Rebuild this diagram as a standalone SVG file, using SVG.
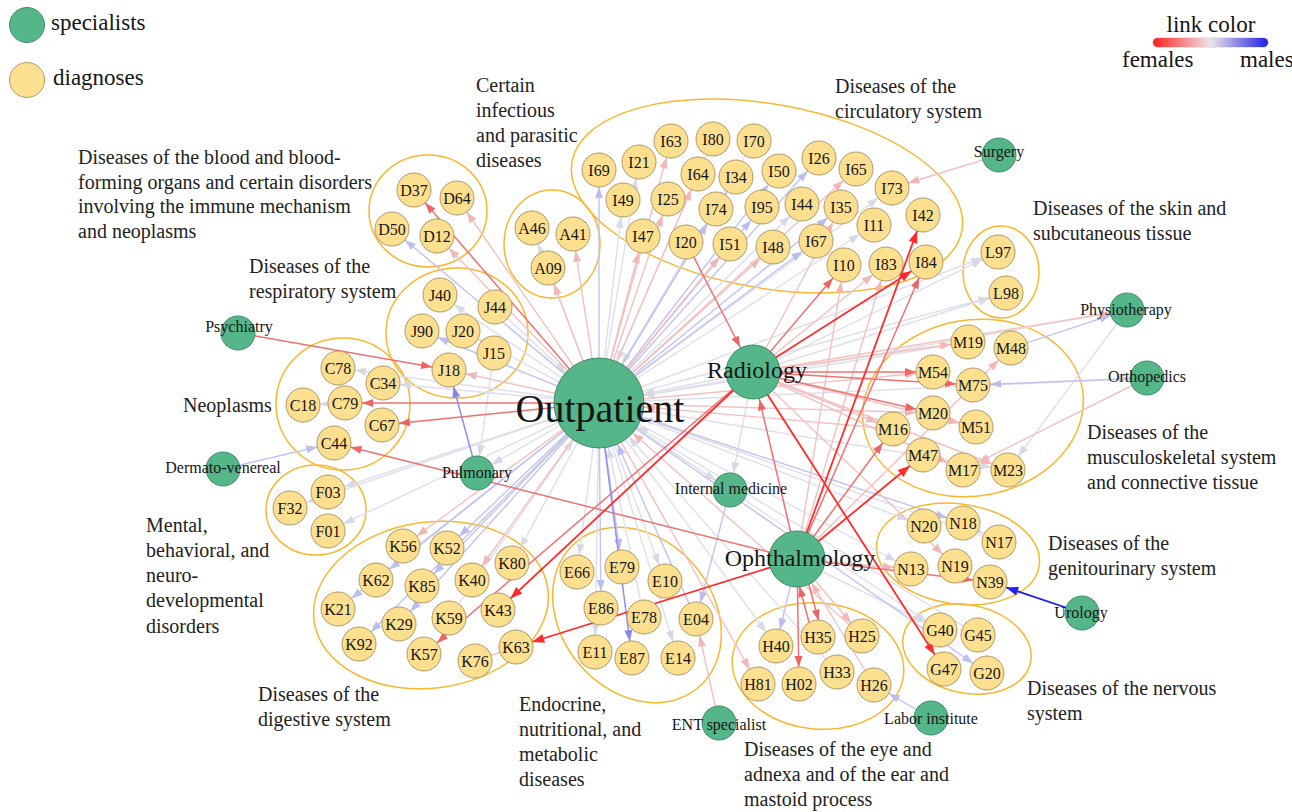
<svg xmlns="http://www.w3.org/2000/svg" width="1292" height="812" viewBox="0 0 1292 812">
<defs>
<style>
text{font-family:"Liberation Serif","Times New Roman",serif;fill:#151515}
.dg circle{fill:#FDE08F;stroke:#B09868;stroke-width:1}
.dg text{font-size:16px;text-anchor:middle}
.sp circle{fill:#55B68A;stroke:#3E8C68;stroke-width:1}
.sp text{font-size:16px;text-anchor:middle}
.grp ellipse{fill:none;stroke:#F8B730;stroke-width:1.5}
.lab{font-size:20px;fill:#222}
.leg{font-size:23px}
line{fill:none}
.g{stroke:#dedfea;stroke-width:1.4}
.b{stroke:#c3c3ef;stroke-width:1.4}
.p{stroke:#f3c0c0;stroke-width:1.4}
.r{stroke:#f07070;stroke-width:1.5}
.m{stroke:#8f8fe8;stroke-width:1.5}
.R{stroke:#ff2a2a;stroke-width:1.8}
.B{stroke:#2020ee;stroke-width:1.8}
</style>
<linearGradient id="lg" x1="0" x2="1" y1="0" y2="0">
<stop offset="0" stop-color="#ff1f1f"/><stop offset="0.5" stop-color="#ece6e8"/><stop offset="1" stop-color="#1f1fe6"/>
</linearGradient>
<marker id="g-s" viewBox="0 0 11 8" refX="28" refY="4" markerWidth="11" markerHeight="8" markerUnits="userSpaceOnUse" orient="auto" overflow="visible"><path d="M0,0L11,4L0,8z" fill="#d8d9e6"/></marker>
<marker id="g-m" viewBox="0 0 11 8" refX="39" refY="4" markerWidth="11" markerHeight="8" markerUnits="userSpaceOnUse" orient="auto" overflow="visible"><path d="M0,0L11,4L0,8z" fill="#d8d9e6"/></marker>
<marker id="g-l" viewBox="0 0 11 8" refX="56" refY="4" markerWidth="11" markerHeight="8" markerUnits="userSpaceOnUse" orient="auto" overflow="visible"><path d="M0,0L11,4L0,8z" fill="#d8d9e6"/></marker>
<marker id="b-s" viewBox="0 0 11 8" refX="28" refY="4" markerWidth="11" markerHeight="8" markerUnits="userSpaceOnUse" orient="auto" overflow="visible"><path d="M0,0L11,4L0,8z" fill="#bcbcee"/></marker>
<marker id="b-l" viewBox="0 0 11 8" refX="56" refY="4" markerWidth="11" markerHeight="8" markerUnits="userSpaceOnUse" orient="auto" overflow="visible"><path d="M0,0L11,4L0,8z" fill="#bcbcee"/></marker>
<marker id="p-s" viewBox="0 0 11 8" refX="28" refY="4" markerWidth="11" markerHeight="8" markerUnits="userSpaceOnUse" orient="auto" overflow="visible"><path d="M0,0L11,4L0,8z" fill="#f2b6b6"/></marker>
<marker id="p-m" viewBox="0 0 11 8" refX="39" refY="4" markerWidth="11" markerHeight="8" markerUnits="userSpaceOnUse" orient="auto" overflow="visible"><path d="M0,0L11,4L0,8z" fill="#f2b6b6"/></marker>
<marker id="p-l" viewBox="0 0 11 8" refX="56" refY="4" markerWidth="11" markerHeight="8" markerUnits="userSpaceOnUse" orient="auto" overflow="visible"><path d="M0,0L11,4L0,8z" fill="#f2b6b6"/></marker>
<marker id="r-s" viewBox="0 0 11 8" refX="28" refY="4" markerWidth="11" markerHeight="8" markerUnits="userSpaceOnUse" orient="auto" overflow="visible"><path d="M0,0L11,4L0,8z" fill="#ee6464"/></marker>
<marker id="r-m" viewBox="0 0 11 8" refX="39" refY="4" markerWidth="11" markerHeight="8" markerUnits="userSpaceOnUse" orient="auto" overflow="visible"><path d="M0,0L11,4L0,8z" fill="#ee6464"/></marker>
<marker id="m-s" viewBox="0 0 11 8" refX="28" refY="4" markerWidth="11" markerHeight="8" markerUnits="userSpaceOnUse" orient="auto" overflow="visible"><path d="M0,0L11,4L0,8z" fill="#8686e6"/></marker>
<marker id="R-s" viewBox="0 0 12 9" refX="29" refY="4.5" markerWidth="12" markerHeight="9" markerUnits="userSpaceOnUse" orient="auto" overflow="visible"><path d="M0,0L12,4.5L0,9z" fill="#ff2a2a"/></marker>
<marker id="B-s" viewBox="0 0 12 9" refX="29" refY="4.5" markerWidth="12" markerHeight="9" markerUnits="userSpaceOnUse" orient="auto" overflow="visible"><path d="M0,0L12,4.5L0,9z" fill="#2020ee"/></marker>
</defs>
<rect width="1292" height="812" fill="#ffffff"/>

<g id="legend">
<circle cx="27" cy="25" r="17.5" fill="#55B68A" stroke="#3E8C68"/>
<text class="leg" x="51" y="30">specialists</text>
<circle cx="27" cy="80" r="17.5" fill="#FDE08F" stroke="#B09868"/>
<text class="leg" x="53" y="85">diagnoses</text>
<text class="leg" x="1211" y="32" text-anchor="middle">link color</text>
<rect x="1152" y="37" width="117" height="11" rx="5.5" fill="#e8e8e8"/>
<rect x="1153" y="38" width="115" height="9" rx="4.5" fill="url(#lg)"/>
<text class="leg" x="1122" y="67">females</text>
<text class="leg" x="1240" y="67">males</text>
</g>

<g id="groups">
<g id="grp-D" class="grp"><ellipse cx="428" cy="211" rx="59" ry="56"/>
<text class="lab"><tspan x="78" y="164">Diseases of the blood and blood-</tspan><tspan x="78" y="189">forming organs and certain disorders</tspan><tspan x="78" y="213">involving the immune mechanism</tspan><tspan x="78" y="238">and neoplasms</tspan></text></g>
<g id="grp-A" class="grp"><ellipse cx="552" cy="244" rx="48" ry="54"/>
<text class="lab"><tspan x="476" y="92">Certain</tspan><tspan x="476" y="117">infectious</tspan><tspan x="476" y="142">and parasitic</tspan><tspan x="476" y="167">diseases</tspan></text></g>
<g id="grp-I" class="grp"><ellipse cx="767" cy="196" rx="198" ry="92" transform="rotate(10 767 196)"/>
<text class="lab"><tspan x="835" y="93">Diseases of the</tspan><tspan x="835" y="118">circulatory system</tspan></text></g>
<g id="grp-L" class="grp"><ellipse cx="1001" cy="272" rx="38" ry="46"/>
<text class="lab"><tspan x="1033" y="215">Diseases of the skin and</tspan><tspan x="1033" y="240">subcutaneous tissue</tspan></text></g>
<g id="grp-J" class="grp"><ellipse cx="457" cy="333" rx="71" ry="65"/>
<text class="lab"><tspan x="249" y="273">Diseases of the</tspan><tspan x="249" y="298">respiratory system</tspan></text></g>
<g id="grp-C" class="grp"><ellipse cx="343" cy="404" rx="67" ry="66"/>
<text class="lab" x="183" y="412">Neoplasms</text></g>
<g id="grp-F" class="grp"><ellipse cx="316" cy="510" rx="50" ry="45"/>
<text class="lab"><tspan x="146" y="532">Mental,</tspan><tspan x="146" y="557">behavioral, and</tspan><tspan x="146" y="582">neuro-</tspan><tspan x="146" y="607">developmental</tspan><tspan x="146" y="633">disorders</tspan></text></g>
<g id="grp-K" class="grp"><ellipse cx="431" cy="605" rx="118" ry="83" transform="rotate(-8 431 605)"/>
<text class="lab"><tspan x="258" y="701">Diseases of the</tspan><tspan x="258" y="726">digestive system</tspan></text></g>
<g id="grp-E" class="grp"><ellipse cx="637" cy="615" rx="95" ry="76" transform="rotate(50 637 615)"/>
<text class="lab"><tspan x="519" y="711">Endocrine,</tspan><tspan x="519" y="736">nutritional, and</tspan><tspan x="519" y="761">metabolic</tspan><tspan x="519" y="786">diseases</tspan></text></g>
<g id="grp-H" class="grp"><ellipse cx="818" cy="666" rx="86" ry="63" transform="rotate(6 818 666)"/>
<text class="lab"><tspan x="744" y="756">Diseases of the eye and</tspan><tspan x="744" y="781">adnexa and of the ear and</tspan><tspan x="744" y="806">mastoid process</tspan></text></g>
<g id="grp-N" class="grp"><ellipse cx="958" cy="554" rx="82" ry="50" transform="rotate(8 958 554)"/>
<text class="lab"><tspan x="1048" y="550">Diseases of the</tspan><tspan x="1048" y="575">genitourinary system</tspan></text></g>
<g id="grp-G" class="grp"><ellipse cx="967" cy="649" rx="65" ry="44" transform="rotate(12 967 649)"/>
<text class="lab"><tspan x="1027" y="695">Diseases of the nervous</tspan><tspan x="1027" y="720">system</tspan></text></g>
<g id="grp-M" class="grp"><ellipse cx="973" cy="408" rx="111" ry="88" transform="rotate(-10 973 408)"/>
<text class="lab"><tspan x="1087" y="439">Diseases of the</tspan><tspan x="1087" y="464">musculoskeletal system</tspan><tspan x="1087" y="489">and connective tissue</tspan></text></g>
</g>

<g id="connectors">
<!-- light grey from Outpatient -->
<line class="g" x1="599" y1="403" x2="532" y2="228" marker-end="url(#g-s)"/>
<line class="g" x1="599" y1="403" x2="639" y2="162" marker-end="url(#g-s)"/>
<line class="g" x1="599" y1="403" x2="623" y2="200" marker-end="url(#g-s)"/>
<line class="g" x1="599" y1="403" x2="802" y2="204" marker-end="url(#g-s)"/>
<line class="g" x1="599" y1="403" x2="892" y2="188" marker-end="url(#g-s)"/>
<line class="g" x1="599" y1="403" x2="874" y2="225" marker-end="url(#g-s)"/>
<line class="g" x1="599" y1="403" x2="440" y2="295" marker-end="url(#g-s)"/>
<line class="g" x1="599" y1="403" x2="463" y2="331" marker-end="url(#g-s)"/>
<line class="g" x1="599" y1="403" x2="383" y2="383" marker-end="url(#g-s)"/>
<line class="g" x1="599" y1="403" x2="338" y2="368" marker-end="url(#g-s)"/>
<line class="g" x1="599" y1="403" x2="290" y2="508" marker-end="url(#g-s)"/>
<line class="g" x1="599" y1="403" x2="328" y2="531" marker-end="url(#g-s)"/>
<line class="g" x1="599" y1="403" x2="328" y2="492" marker-end="url(#g-s)"/>
<line class="g" x1="599" y1="403" x2="512" y2="563" marker-end="url(#g-s)"/>
<line class="g" x1="599" y1="403" x2="577" y2="572" marker-end="url(#g-s)"/>
<line class="g" x1="599" y1="403" x2="665" y2="581" marker-end="url(#g-s)"/>
<line class="g" x1="599" y1="403" x2="678" y2="658" marker-end="url(#g-s)"/>
<line class="g" x1="599" y1="403" x2="595" y2="652" marker-end="url(#g-s)"/>
<line class="g" x1="599" y1="403" x2="911" y2="569" marker-end="url(#g-s)"/>
<line class="g" x1="599" y1="403" x2="924" y2="526" marker-end="url(#g-s)"/>
<line class="g" x1="599" y1="403" x2="940" y2="630" marker-end="url(#g-s)"/>
<line class="g" x1="599" y1="403" x2="998" y2="252" marker-end="url(#g-s)"/>
<line class="g" x1="599" y1="403" x2="1006" y2="293" marker-end="url(#g-s)"/>
<line class="g" x1="599" y1="403" x2="776" y2="646" marker-end="url(#g-s)"/>
<line class="g" x1="599" y1="403" x2="730" y2="490" marker-end="url(#g-s)"/>
<line class="g" x1="599" y1="403" x2="477" y2="473" marker-end="url(#g-s)"/>
<line class="g" x1="599" y1="403" x2="1127" y2="310" marker-end="url(#g-s)"/>
<line class="g" x1="599" y1="403" x2="1147" y2="378" marker-end="url(#g-s)"/>
<line class="g" x1="599" y1="403" x2="1008" y2="470" marker-end="url(#g-s)"/>
<!-- light grey into Outpatient -->
<line class="g" x1="495" y1="307" x2="599" y2="403" marker-end="url(#g-l)"/>
<line class="g" x1="713" y1="139" x2="599" y2="403" marker-end="url(#g-l)"/>
<line class="g" x1="754" y1="141" x2="599" y2="403" marker-end="url(#g-l)"/>
<line class="g" x1="644" y1="617" x2="599" y2="403" marker-end="url(#g-l)"/>
<line class="g" x1="968" y1="342" x2="599" y2="403" marker-end="url(#g-l)"/>
<line class="g" x1="999" y1="542" x2="599" y2="403" marker-end="url(#g-l)"/>
<line class="g" x1="978" y1="635" x2="599" y2="403" marker-end="url(#g-l)"/>
<line class="g" x1="837" y1="672" x2="599" y2="403" marker-end="url(#g-l)"/>
<line class="g" x1="753" y1="372" x2="599" y2="403" marker-end="url(#g-l)"/>
<line class="g" x1="449" y1="618" x2="599" y2="403" marker-end="url(#g-l)"/>
<!-- other grey -->
<line class="g" x1="753" y1="372" x2="998" y2="252" marker-end="url(#g-s)"/>
<line class="g" x1="753" y1="372" x2="1006" y2="293" marker-end="url(#g-s)"/>
<line class="g" x1="753" y1="372" x2="730" y2="490" marker-end="url(#g-s)"/>
<line class="g" x1="797" y1="559" x2="940" y2="630" marker-end="url(#g-s)"/>
<line class="g" x1="494" y1="353" x2="477" y2="473" marker-end="url(#g-s)"/>
<line class="g" x1="1127" y1="310" x2="1008" y2="470" marker-end="url(#g-s)"/>
<line class="g" x1="345" y1="403" x2="303" y2="405" marker-end="url(#g-s)"/>
<line class="g" x1="963" y1="523" x2="999" y2="542" marker-end="url(#g-s)"/>
<!-- light blue -->
<line class="b" x1="599" y1="403" x2="392" y2="229" marker-end="url(#b-s)"/>
<line class="b" x1="599" y1="403" x2="599" y2="170" marker-end="url(#b-s)"/>
<line class="b" x1="599" y1="403" x2="736" y2="177" marker-end="url(#b-s)"/>
<line class="b" x1="599" y1="403" x2="716" y2="209" marker-end="url(#b-s)"/>
<line class="b" x1="599" y1="403" x2="779" y2="171" marker-end="url(#b-s)"/>
<line class="b" x1="599" y1="403" x2="762" y2="207" marker-end="url(#b-s)"/>
<line class="b" x1="599" y1="403" x2="819" y2="158" marker-end="url(#b-s)"/>
<line class="b" x1="599" y1="403" x2="841" y2="207" marker-end="url(#b-s)"/>
<line class="b" x1="599" y1="403" x2="816" y2="241" marker-end="url(#b-s)"/>
<line class="b" x1="599" y1="403" x2="422" y2="331" marker-end="url(#b-s)"/>
<line class="b" x1="599" y1="403" x2="447" y2="548" marker-end="url(#b-s)"/>
<line class="b" x1="599" y1="403" x2="376" y2="580" marker-end="url(#b-s)"/>
<line class="b" x1="599" y1="403" x2="338" y2="609" marker-end="url(#b-s)"/>
<line class="b" x1="599" y1="403" x2="422" y2="586" marker-end="url(#b-s)"/>
<line class="b" x1="599" y1="403" x2="399" y2="624" marker-end="url(#b-s)"/>
<line class="b" x1="599" y1="403" x2="359" y2="644" marker-end="url(#b-s)"/>
<line class="b" x1="599" y1="403" x2="622" y2="567" marker-end="url(#b-s)"/>
<line class="b" x1="599" y1="403" x2="601" y2="608" marker-end="url(#b-s)"/>
<line class="b" x1="599" y1="403" x2="987" y2="673" marker-end="url(#b-s)"/>
<line class="b" x1="599" y1="403" x2="963" y2="523" marker-end="url(#b-s)"/>
<line class="b" x1="696" y1="619" x2="599" y2="403" marker-end="url(#b-l)"/>
<line class="b" x1="797" y1="559" x2="776" y2="646" marker-end="url(#b-s)"/>
<line class="b" x1="223" y1="469" x2="334" y2="443" marker-end="url(#b-s)"/>
<line class="b" x1="1147" y1="378" x2="973" y2="385" marker-end="url(#b-s)"/>
<line class="b" x1="1011" y1="348" x2="1127" y2="310" marker-end="url(#b-s)"/>
<line class="b" x1="931" y1="718" x2="874" y2="685" marker-end="url(#b-s)"/>
<line class="b" x1="730" y1="490" x2="696" y2="619" marker-end="url(#b-s)"/>
<!-- pink -->
<line class="p" x1="599" y1="403" x2="457" y2="198" marker-end="url(#p-s)"/>
<line class="p" x1="599" y1="403" x2="437" y2="236" marker-end="url(#p-s)"/>
<line class="p" x1="599" y1="403" x2="573" y2="234" marker-end="url(#p-s)"/>
<line class="p" x1="599" y1="403" x2="548" y2="268" marker-end="url(#p-s)"/>
<line class="p" x1="599" y1="403" x2="671" y2="141" marker-end="url(#p-s)"/>
<line class="p" x1="599" y1="403" x2="668" y2="199" marker-end="url(#p-s)"/>
<line class="p" x1="599" y1="403" x2="643" y2="236" marker-end="url(#p-s)"/>
<line class="p" x1="599" y1="403" x2="698" y2="174" marker-end="url(#p-s)"/>
<line class="p" x1="599" y1="403" x2="730" y2="244" marker-end="url(#p-s)"/>
<line class="p" x1="599" y1="403" x2="773" y2="247" marker-end="url(#p-s)"/>
<line class="p" x1="599" y1="403" x2="856" y2="169" marker-end="url(#p-s)"/>
<line class="p" x1="599" y1="403" x2="449" y2="370" marker-end="url(#p-s)"/>
<line class="p" x1="599" y1="403" x2="403" y2="546" marker-end="url(#p-s)"/>
<line class="p" x1="599" y1="403" x2="472" y2="580" marker-end="url(#p-s)"/>
<line class="p" x1="599" y1="403" x2="758" y2="684" marker-end="url(#p-s)"/>
<line class="p" x1="599" y1="403" x2="933" y2="372" marker-end="url(#p-s)"/>
<line class="p" x1="599" y1="403" x2="933" y2="413" marker-end="url(#p-s)"/>
<line class="p" x1="893" y1="429" x2="599" y2="403" marker-end="url(#p-l)"/>
<line class="p" x1="862" y1="636" x2="599" y2="403" marker-end="url(#p-l)"/>
<line class="p" x1="753" y1="372" x2="841" y2="207" marker-end="url(#p-s)"/>
<line class="p" x1="753" y1="372" x2="886" y2="264" marker-end="url(#p-s)"/>
<line class="p" x1="753" y1="372" x2="976" y2="427" marker-end="url(#p-s)"/>
<line class="p" x1="753" y1="372" x2="893" y2="429" marker-end="url(#p-s)"/>
<line class="p" x1="753" y1="372" x2="968" y2="342" marker-end="url(#p-s)"/>
<line class="p" x1="753" y1="372" x2="1008" y2="470" marker-end="url(#p-s)"/>
<line class="p" x1="753" y1="372" x2="963" y2="470" marker-end="url(#p-s)"/>
<line class="p" x1="753" y1="372" x2="955" y2="566" marker-end="url(#p-s)"/>
<line class="p" x1="753" y1="372" x2="1127" y2="310" marker-end="url(#p-s)"/>
<line class="p" x1="797" y1="559" x2="886" y2="264" marker-end="url(#p-s)"/>
<line class="p" x1="797" y1="559" x2="844" y2="265" marker-end="url(#p-s)"/>
<line class="p" x1="797" y1="559" x2="862" y2="636" marker-end="url(#p-s)"/>
<line class="p" x1="797" y1="559" x2="1011" y2="348" marker-end="url(#p-s)"/>
<line class="p" x1="797" y1="559" x2="911" y2="569" marker-end="url(#p-s)"/>
<line class="p" x1="874" y1="685" x2="797" y2="559" marker-end="url(#p-m)"/>
<line class="p" x1="999" y1="155" x2="892" y2="188" marker-end="url(#p-s)"/>
<line class="p" x1="1147" y1="378" x2="963" y2="470" marker-end="url(#p-s)"/>
<line class="p" x1="719" y1="723" x2="696" y2="619" marker-end="url(#p-s)"/>
<line class="p" x1="516" y1="647" x2="475" y2="661"/>
<!-- medium red -->
<line class="r" x1="599" y1="403" x2="414" y2="190" marker-end="url(#r-s)"/>
<line class="r" x1="599" y1="403" x2="345" y2="403" marker-end="url(#r-s)"/>
<line class="r" x1="599" y1="403" x2="382" y2="425" marker-end="url(#r-s)"/>
<line class="r" x1="753" y1="372" x2="844" y2="265" marker-end="url(#r-s)"/>
<line class="r" x1="753" y1="372" x2="933" y2="372" marker-end="url(#r-s)"/>
<line class="r" x1="753" y1="372" x2="973" y2="385" marker-end="url(#r-s)"/>
<line class="r" x1="753" y1="372" x2="933" y2="413" marker-end="url(#r-s)"/>
<line class="r" x1="753" y1="372" x2="424" y2="654" marker-end="url(#r-s)"/>
<line class="r" x1="686" y1="242" x2="753" y2="372" marker-end="url(#r-m)"/>
<line class="r" x1="797" y1="559" x2="753" y2="372" marker-end="url(#r-m)"/>
<line class="r" x1="797" y1="559" x2="926" y2="262" marker-end="url(#r-s)"/>
<line class="r" x1="797" y1="559" x2="893" y2="429" marker-end="url(#r-s)"/>
<line class="r" x1="797" y1="559" x2="334" y2="443" marker-end="url(#r-s)"/>
<line class="r" x1="802" y1="559" x2="823" y2="637" marker-end="url(#r-s)"/>
<line class="r" x1="813" y1="637" x2="792" y2="559" marker-end="url(#r-m)"/>
<line class="r" x1="797" y1="559" x2="799" y2="684" marker-end="url(#r-s)"/>
<line class="r" x1="797" y1="559" x2="990" y2="582" marker-end="url(#r-s)"/>
<line class="r" x1="238" y1="333" x2="449" y2="370" marker-end="url(#r-s)"/>
<line class="m" x1="599" y1="403" x2="632" y2="658" marker-end="url(#m-s)"/>
<line class="m" x1="477" y1="473" x2="449" y2="370" marker-end="url(#m-s)"/>
<!-- strong -->
<line class="R" x1="753" y1="372" x2="926" y2="262" marker-end="url(#R-s)"/>
<line class="R" x1="753" y1="372" x2="944" y2="669" marker-end="url(#R-s)"/>
<line class="R" x1="753" y1="372" x2="498" y2="610" marker-end="url(#R-s)"/>
<line class="R" x1="797" y1="559" x2="923" y2="215" marker-end="url(#R-s)"/>
<line class="R" x1="797" y1="559" x2="923" y2="455" marker-end="url(#R-s)"/>
<line class="R" x1="797" y1="559" x2="516" y2="647" marker-end="url(#R-s)"/>
<line class="B" x1="1082" y1="613" x2="990" y2="582" marker-end="url(#B-s)"/>
</g>

<g id="nodes">
<g id="Outpatient" class="sp"><circle cx="599" cy="403" r="45"/><text x="600" y="422" style="font-size:40px">Outpatient</text></g>
<g id="Radiology" class="sp"><circle cx="753" cy="372" r="27"/><text x="757" y="378" style="font-size:24px">Radiology</text></g>
<g id="Ophthalmology" class="sp"><circle cx="797" cy="559" r="28"/><text x="800" y="566" style="font-size:24px">Ophthalmology</text></g>
<g id="Internal-medicine" class="sp"><circle cx="730" cy="490" r="17"/><text x="731" y="494">Internal medicine</text></g>
<g id="Pulmonary" class="sp"><circle cx="477" cy="473" r="17"/><text x="477" y="478">Pulmonary</text></g>
<g id="Psychiatry" class="sp"><circle cx="238" cy="333" r="17"/><text x="239" y="332">Psychiatry</text></g>
<g id="Dermato-venereal" class="sp"><circle cx="223" cy="469" r="17"/><text x="223" y="473">Dermato-venereal</text></g>
<g id="Surgery" class="sp"><circle cx="999" cy="155" r="17"/><text x="999" y="157">Surgery</text></g>
<g id="Physiotherapy" class="sp"><circle cx="1127" cy="310" r="17"/><text x="1126" y="315">Physiotherapy</text></g>
<g id="Orthopedics" class="sp"><circle cx="1147" cy="378" r="17"/><text x="1147" y="382">Orthopedics</text></g>
<g id="Urology" class="sp"><circle cx="1082" cy="613" r="17"/><text x="1081" y="618">Urology</text></g>
<g id="ENT-specialist" class="sp"><circle cx="719" cy="723" r="17"/><text x="719" y="730">ENT specialist</text></g>
<g id="Labor-institute" class="sp"><circle cx="931" cy="718" r="17"/><text x="931" y="724">Labor institute</text></g>

<g id="D37" class="dg"><circle cx="414" cy="190" r="17"/><text x="414" y="196">D37</text></g>
<g id="D64" class="dg"><circle cx="457" cy="198" r="17"/><text x="457" y="204">D64</text></g>
<g id="D50" class="dg"><circle cx="392" cy="229" r="17"/><text x="392" y="235">D50</text></g>
<g id="D12" class="dg"><circle cx="437" cy="236" r="17"/><text x="437" y="242">D12</text></g>
<g id="A46" class="dg"><circle cx="532" cy="228" r="17"/><text x="532" y="234">A46</text></g>
<g id="A41" class="dg"><circle cx="573" cy="234" r="17"/><text x="573" y="240">A41</text></g>
<g id="A09" class="dg"><circle cx="548" cy="268" r="17"/><text x="548" y="274">A09</text></g>
<g id="I69" class="dg"><circle cx="599" cy="170" r="17"/><text x="599" y="176">I69</text></g>
<g id="I21" class="dg"><circle cx="639" cy="162" r="17"/><text x="639" y="168">I21</text></g>
<g id="I63" class="dg"><circle cx="671" cy="141" r="17"/><text x="671" y="147">I63</text></g>
<g id="I80" class="dg"><circle cx="713" cy="139" r="17"/><text x="713" y="145">I80</text></g>
<g id="I70" class="dg"><circle cx="754" cy="141" r="17"/><text x="754" y="147">I70</text></g>
<g id="I64" class="dg"><circle cx="698" cy="174" r="17"/><text x="698" y="180">I64</text></g>
<g id="I34" class="dg"><circle cx="736" cy="177" r="17"/><text x="736" y="183">I34</text></g>
<g id="I50" class="dg"><circle cx="779" cy="171" r="17"/><text x="779" y="177">I50</text></g>
<g id="I26" class="dg"><circle cx="819" cy="158" r="17"/><text x="819" y="164">I26</text></g>
<g id="I65" class="dg"><circle cx="856" cy="169" r="17"/><text x="856" y="175">I65</text></g>
<g id="I73" class="dg"><circle cx="892" cy="188" r="17"/><text x="892" y="194">I73</text></g>
<g id="I49" class="dg"><circle cx="623" cy="200" r="17"/><text x="623" y="206">I49</text></g>
<g id="I25" class="dg"><circle cx="668" cy="199" r="17"/><text x="668" y="205">I25</text></g>
<g id="I74" class="dg"><circle cx="716" cy="209" r="17"/><text x="716" y="215">I74</text></g>
<g id="I95" class="dg"><circle cx="762" cy="207" r="17"/><text x="762" y="213">I95</text></g>
<g id="I44" class="dg"><circle cx="802" cy="204" r="17"/><text x="802" y="210">I44</text></g>
<g id="I35" class="dg"><circle cx="841" cy="207" r="17"/><text x="841" y="213">I35</text></g>
<g id="I11" class="dg"><circle cx="874" cy="225" r="17"/><text x="874" y="231">I11</text></g>
<g id="I42" class="dg"><circle cx="923" cy="215" r="17"/><text x="923" y="221">I42</text></g>
<g id="I47" class="dg"><circle cx="643" cy="236" r="17"/><text x="643" y="242">I47</text></g>
<g id="I20" class="dg"><circle cx="686" cy="242" r="17"/><text x="686" y="248">I20</text></g>
<g id="I51" class="dg"><circle cx="730" cy="244" r="17"/><text x="730" y="250">I51</text></g>
<g id="I48" class="dg"><circle cx="773" cy="247" r="17"/><text x="773" y="253">I48</text></g>
<g id="I67" class="dg"><circle cx="816" cy="241" r="17"/><text x="816" y="247">I67</text></g>
<g id="I10" class="dg"><circle cx="844" cy="265" r="17"/><text x="844" y="271">I10</text></g>
<g id="I83" class="dg"><circle cx="886" cy="264" r="17"/><text x="886" y="270">I83</text></g>
<g id="I84" class="dg"><circle cx="926" cy="262" r="17"/><text x="926" y="268">I84</text></g>
<g id="L97" class="dg"><circle cx="998" cy="252" r="17"/><text x="998" y="258">L97</text></g>
<g id="L98" class="dg"><circle cx="1006" cy="293" r="17"/><text x="1006" y="299">L98</text></g>
<g id="J40" class="dg"><circle cx="440" cy="295" r="17"/><text x="440" y="301">J40</text></g>
<g id="J44" class="dg"><circle cx="495" cy="307" r="17"/><text x="495" y="313">J44</text></g>
<g id="J90" class="dg"><circle cx="422" cy="331" r="17"/><text x="422" y="337">J90</text></g>
<g id="J20" class="dg"><circle cx="463" cy="331" r="17"/><text x="463" y="337">J20</text></g>
<g id="J15" class="dg"><circle cx="494" cy="353" r="17"/><text x="494" y="359">J15</text></g>
<g id="J18" class="dg"><circle cx="449" cy="370" r="17"/><text x="449" y="376">J18</text></g>
<g id="C78" class="dg"><circle cx="338" cy="368" r="17"/><text x="338" y="374">C78</text></g>
<g id="C34" class="dg"><circle cx="383" cy="383" r="17"/><text x="383" y="389">C34</text></g>
<g id="C18" class="dg"><circle cx="303" cy="405" r="17"/><text x="303" y="411">C18</text></g>
<g id="C79" class="dg"><circle cx="345" cy="403" r="17"/><text x="345" y="409">C79</text></g>
<g id="C67" class="dg"><circle cx="382" cy="425" r="17"/><text x="382" y="431">C67</text></g>
<g id="C44" class="dg"><circle cx="334" cy="443" r="17"/><text x="334" y="449">C44</text></g>
<g id="F32" class="dg"><circle cx="290" cy="508" r="17"/><text x="290" y="514">F32</text></g>
<g id="F03" class="dg"><circle cx="328" cy="492" r="17"/><text x="328" y="498">F03</text></g>
<g id="F01" class="dg"><circle cx="328" cy="531" r="17"/><text x="328" y="537">F01</text></g>
<g id="K56" class="dg"><circle cx="403" cy="546" r="17"/><text x="403" y="552">K56</text></g>
<g id="K52" class="dg"><circle cx="447" cy="548" r="17"/><text x="447" y="554">K52</text></g>
<g id="K80" class="dg"><circle cx="512" cy="563" r="17"/><text x="512" y="569">K80</text></g>
<g id="K62" class="dg"><circle cx="376" cy="580" r="17"/><text x="376" y="586">K62</text></g>
<g id="K85" class="dg"><circle cx="422" cy="586" r="17"/><text x="422" y="592">K85</text></g>
<g id="K40" class="dg"><circle cx="472" cy="580" r="17"/><text x="472" y="586">K40</text></g>
<g id="K21" class="dg"><circle cx="338" cy="609" r="17"/><text x="338" y="615">K21</text></g>
<g id="K43" class="dg"><circle cx="498" cy="610" r="17"/><text x="498" y="616">K43</text></g>
<g id="K29" class="dg"><circle cx="399" cy="624" r="17"/><text x="399" y="630">K29</text></g>
<g id="K59" class="dg"><circle cx="449" cy="618" r="17"/><text x="449" y="624">K59</text></g>
<g id="K92" class="dg"><circle cx="359" cy="644" r="17"/><text x="359" y="650">K92</text></g>
<g id="K57" class="dg"><circle cx="424" cy="654" r="17"/><text x="424" y="660">K57</text></g>
<g id="K76" class="dg"><circle cx="475" cy="661" r="17"/><text x="475" y="667">K76</text></g>
<g id="K63" class="dg"><circle cx="516" cy="647" r="17"/><text x="516" y="653">K63</text></g>
<g id="E66" class="dg"><circle cx="577" cy="572" r="17"/><text x="577" y="578">E66</text></g>
<g id="E79" class="dg"><circle cx="622" cy="567" r="17"/><text x="622" y="573">E79</text></g>
<g id="E10" class="dg"><circle cx="665" cy="581" r="17"/><text x="665" y="587">E10</text></g>
<g id="E86" class="dg"><circle cx="601" cy="608" r="17"/><text x="601" y="614">E86</text></g>
<g id="E78" class="dg"><circle cx="644" cy="617" r="17"/><text x="644" y="623">E78</text></g>
<g id="E04" class="dg"><circle cx="696" cy="619" r="17"/><text x="696" y="625">E04</text></g>
<g id="E11" class="dg"><circle cx="595" cy="652" r="17"/><text x="595" y="658">E11</text></g>
<g id="E87" class="dg"><circle cx="632" cy="658" r="17"/><text x="632" y="664">E87</text></g>
<g id="E14" class="dg"><circle cx="678" cy="658" r="17"/><text x="678" y="664">E14</text></g>
<g id="H40" class="dg"><circle cx="776" cy="646" r="17"/><text x="776" y="652">H40</text></g>
<g id="H35" class="dg"><circle cx="818" cy="637" r="17"/><text x="818" y="643">H35</text></g>
<g id="H25" class="dg"><circle cx="862" cy="636" r="17"/><text x="862" y="642">H25</text></g>
<g id="H81" class="dg"><circle cx="758" cy="684" r="17"/><text x="758" y="690">H81</text></g>
<g id="H02" class="dg"><circle cx="799" cy="684" r="17"/><text x="799" y="690">H02</text></g>
<g id="H33" class="dg"><circle cx="837" cy="672" r="17"/><text x="837" y="678">H33</text></g>
<g id="H26" class="dg"><circle cx="874" cy="685" r="17"/><text x="874" y="691">H26</text></g>
<g id="N20" class="dg"><circle cx="924" cy="526" r="17"/><text x="924" y="532">N20</text></g>
<g id="N18" class="dg"><circle cx="963" cy="523" r="17"/><text x="963" y="529">N18</text></g>
<g id="N17" class="dg"><circle cx="999" cy="542" r="17"/><text x="999" y="548">N17</text></g>
<g id="N13" class="dg"><circle cx="911" cy="569" r="17"/><text x="911" y="575">N13</text></g>
<g id="N19" class="dg"><circle cx="955" cy="566" r="17"/><text x="955" y="572">N19</text></g>
<g id="N39" class="dg"><circle cx="990" cy="582" r="17"/><text x="990" y="588">N39</text></g>
<g id="G40" class="dg"><circle cx="940" cy="630" r="17"/><text x="940" y="636">G40</text></g>
<g id="G45" class="dg"><circle cx="978" cy="635" r="17"/><text x="978" y="641">G45</text></g>
<g id="G47" class="dg"><circle cx="944" cy="669" r="17"/><text x="944" y="675">G47</text></g>
<g id="G20" class="dg"><circle cx="987" cy="673" r="17"/><text x="987" y="679">G20</text></g>
<g id="M19" class="dg"><circle cx="968" cy="342" r="17"/><text x="968" y="348">M19</text></g>
<g id="M48" class="dg"><circle cx="1011" cy="348" r="17"/><text x="1011" y="354">M48</text></g>
<g id="M54" class="dg"><circle cx="933" cy="372" r="17"/><text x="933" y="378">M54</text></g>
<g id="M75" class="dg"><circle cx="973" cy="385" r="17"/><text x="973" y="391">M75</text></g>
<g id="M20" class="dg"><circle cx="933" cy="413" r="17"/><text x="933" y="419">M20</text></g>
<g id="M16" class="dg"><circle cx="893" cy="429" r="17"/><text x="893" y="435">M16</text></g>
<g id="M51" class="dg"><circle cx="976" cy="427" r="17"/><text x="976" y="433">M51</text></g>
<g id="M47" class="dg"><circle cx="923" cy="455" r="17"/><text x="923" y="461">M47</text></g>
<g id="M17" class="dg"><circle cx="963" cy="470" r="17"/><text x="963" y="476">M17</text></g>
<g id="M23" class="dg"><circle cx="1008" cy="470" r="17"/><text x="1008" y="476">M23</text></g>
</g>
</svg>
